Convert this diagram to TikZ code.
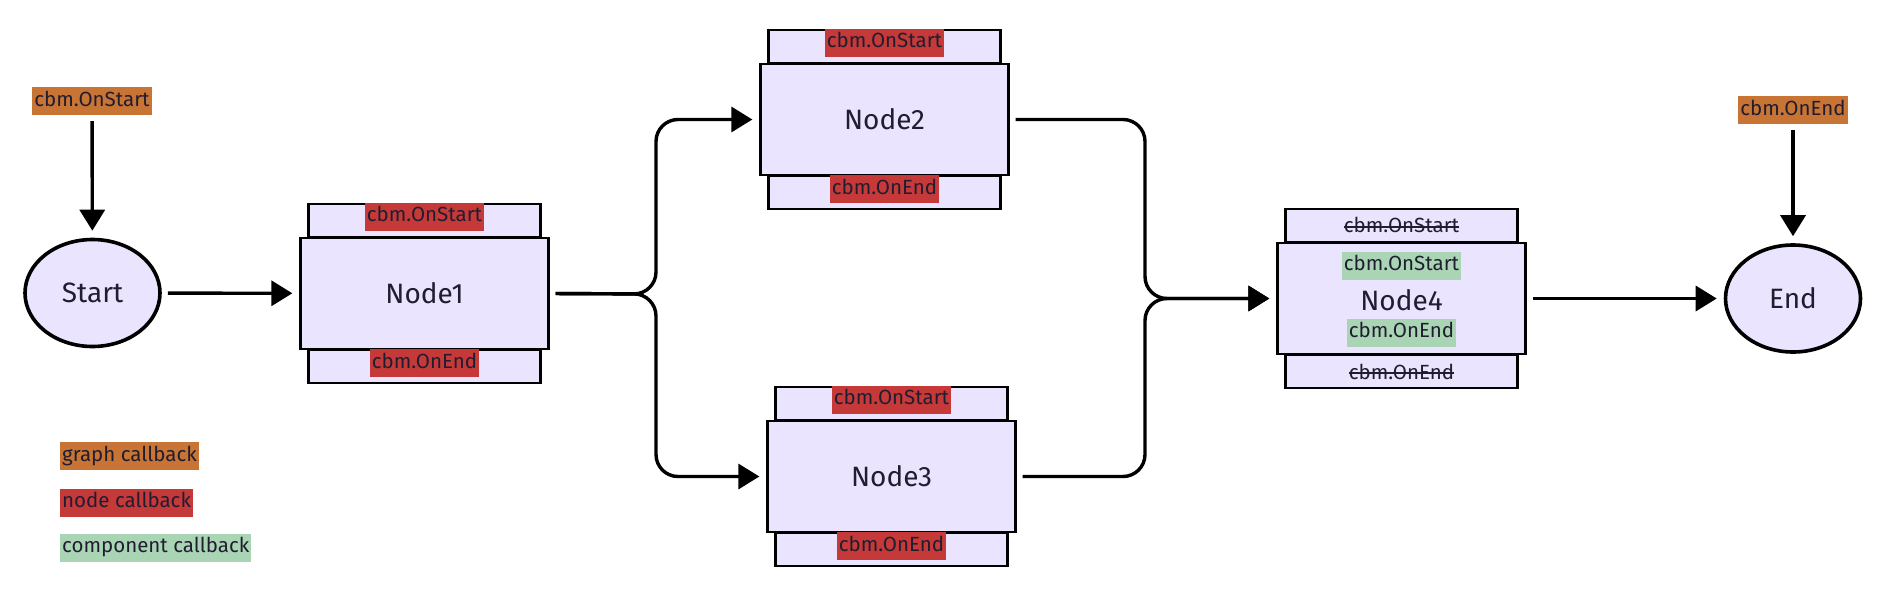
\documentclass[tikz,border=0pt]{standalone}
\usepackage{fontspec}
\setmainfont{Fira Sans}
\usetikzlibrary{arrows.meta,shapes.geometric}

\definecolor{boxfill}{RGB}{234,228,255}
\definecolor{graphcol}{RGB}{200,116,52}
\definecolor{nodecol}{RGB}{197,57,57}
\definecolor{compcol}{RGB}{170,213,181}
\definecolor{inkcol}{RGB}{33,29,48}

\newcommand\cbfont{\fontsize{20.5}{24}\selectfont}
\newcommand\bigfont{\fontsize{28}{32}\selectfont}
\newsavebox\strikebox
\newcommand\strikeout[1]{\sbox\strikebox{#1}\rlap{\rule[0.5ex]{\wd\strikebox}{1.8pt}}\usebox\strikebox}

\tikzset{
	mainbox/.style={draw, fill=boxfill, line width=2.3pt, minimum width=248pt, minimum height=111pt, font=\bigfont, text=inkcol},
	capbox/.style={draw, fill=boxfill, line width=2.3pt, minimum width=232pt, minimum height=33pt, font=\cbfont, text=inkcol},
	event/.style={draw, ellipse, fill=boxfill, line width=3.6pt, minimum width=135pt, minimum height=107pt, font=\bigfont, text=inkcol},
	cb/.style={font=\cbfont, text=inkcol, inner xsep=2pt, inner ysep=4pt, text height=15pt, text depth=5pt},
	graphcb/.style={cb, fill=graphcol},
	nodecb/.style={cb, fill=nodecol},
	compcb/.style={cb, fill=compcol},
	conn/.style={line width=3.4pt, line join=round, -{Triangle[length=21pt,width=25pt]}, shorten <=6pt, shorten >=7pt}
}

\begin{document}
\begin{tikzpicture}[x=1pt, y=-1pt]
		\useasboundingbox (0,0) rectangle (1886,589);

		\node[event] (startev) at ( 92.5, 293) {Start};
		\node[event] (endev)   at (1793, 298.5) {End};
		\node[graphcb] (gstart) at (92, 101) {cbm.OnStart};
		\node[graphcb] (gend)   at (1793, 110) {cbm.OnEnd};

		\node[capbox, anchor=south] (n1top) at (424.5, 238) {};
		\node[capbox, anchor=north] (n1bot) at (424.5, 349) {};
		\node[mainbox] (n1) at (424.5, 293.5) {Node1};
		\node[nodecb, anchor=north] (n1topcb) at (n1top.north) {cbm.OnStart};
		\node[nodecb, anchor=north] (n1botcb) at (n1bot.north) {cbm.OnEnd};

		\node[capbox, anchor=south] (n2top) at (884.5, 64) {};
		\node[capbox, anchor=north] (n2bot) at (884.5, 175) {};
		\node[mainbox] (n2) at (884.5, 119.5) {Node2};
		\node[nodecb, anchor=north] (n2topcb) at (n2top.north) {cbm.OnStart};
		\node[nodecb, anchor=north] (n2botcb) at (n2bot.north) {cbm.OnEnd};

		\node[capbox, anchor=south] (n3top) at (891.5, 421) {};
		\node[capbox, anchor=north] (n3bot) at (891.5, 532) {};
		\node[mainbox] (n3) at (891.5, 476.5) {Node3};
		\node[nodecb, anchor=north] (n3topcb) at (n3top.north) {cbm.OnStart};
		\node[nodecb, anchor=north] (n3botcb) at (n3bot.north) {cbm.OnEnd};

		\node[capbox, anchor=south] (n4top) at (1401.5, 243) {\strikeout{cbm.OnStart}};
		\node[capbox, anchor=north] (n4bot) at (1401.5, 354) {\strikeout{cbm.OnEnd}};
		\node[mainbox] (n4) at (1401.5, 298.5) {};
		\node[font=\bigfont, text=inkcol] (n4txt) at (1401.5, 300) {Node4};
		\node[compcb] (n4startcb) at (1401.5, 265.5) {cbm.OnStart};
		\node[compcb] (n4endcb)   at (1401.5, 332.5) {cbm.OnEnd};

		% legend
		\node[graphcb, anchor=west] (leggraph) at (60, 456) {graph callback};
		\node[nodecb, anchor=west]  (legnode)  at (60, 502.5) {node callback};
		\node[compcb, anchor=west]  (legcomp)  at (60, 547.5) {component callback};

		\coordinate (splitpt) at (656, 294);
		\coordinate (joinpt) at (1145, 298.5);

		\draw[conn] (gstart) to (startev);
		\draw[conn] (gend) to (endev);
		\draw[conn] (startev) to (n1);
		\draw[conn, rounded corners=22pt] (n1.east) -- (splitpt) |- (n2.west);
		\draw[conn, rounded corners=22pt] (n1.east) -- (splitpt) |- (n3.west);
		\draw[conn, rounded corners=22pt] (n2.east) -| (joinpt) -- (n4.west);
		\draw[conn, rounded corners=22pt] (n3.east) -| (joinpt) -- (n4.west);
		\draw[conn] (n4) to (endev);

	\end{tikzpicture}
\end{document}
